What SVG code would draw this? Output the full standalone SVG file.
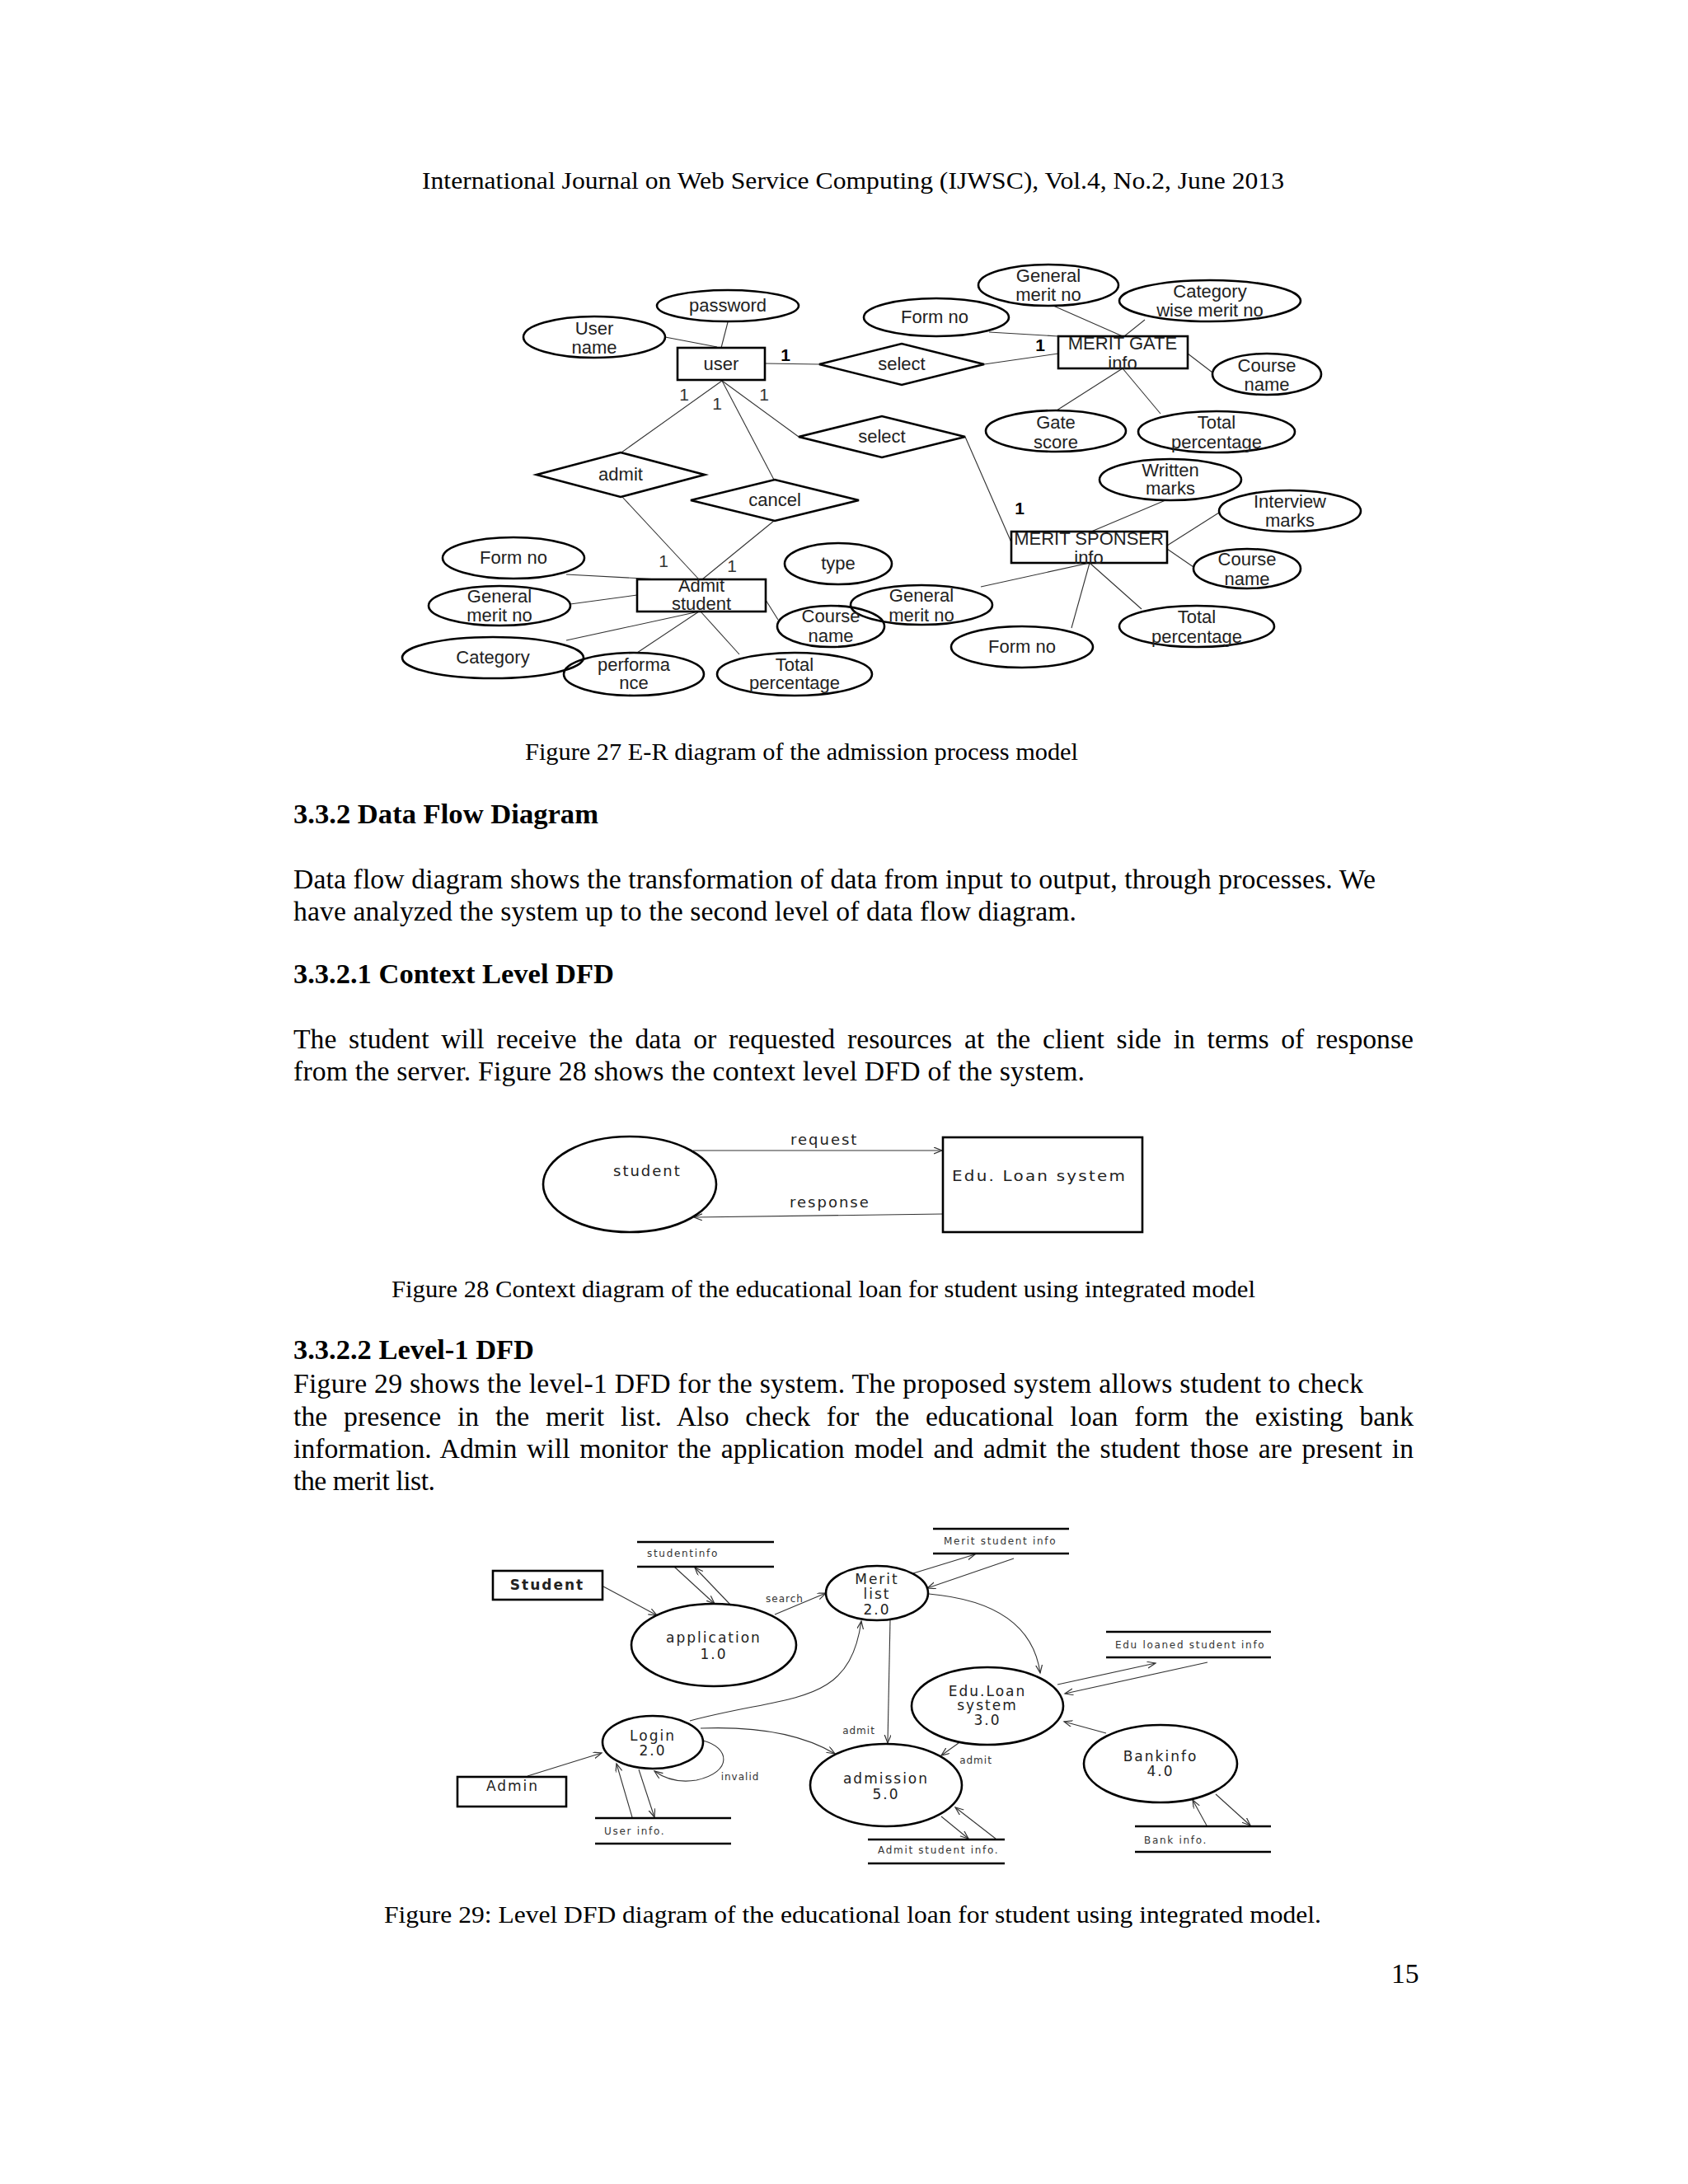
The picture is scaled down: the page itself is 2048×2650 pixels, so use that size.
<svg xmlns="http://www.w3.org/2000/svg" width="2048" height="2650" viewBox="0 0 2048 2650">
<defs>
<style>
.bg{fill:#fff}
.body{font-family:"Liberation Serif","Times New Roman",serif;font-size:33.7px;fill:#000}
.hd{font-family:"Liberation Serif","Times New Roman",serif;font-size:33.7px;font-weight:bold;fill:#000}
.cap{font-family:"Liberation Serif","Times New Roman",serif;font-size:29px;fill:#000}
.ell{fill:none;stroke:#000;stroke-width:2.6}
.box{fill:none;stroke:#000;stroke-width:2.6}
.er{font-family:"Liberation Sans",Arial,sans-serif;font-size:22px;fill:#222;text-anchor:middle}
.one{font-family:"Liberation Sans",Arial,sans-serif;font-size:21px;fill:#333;text-anchor:middle}
.oneb{font-family:"Liberation Sans",Arial,sans-serif;font-size:21px;font-weight:bold;fill:#000;text-anchor:middle}
.ln{stroke:#333;stroke-width:1.1;fill:none}
.dt{font-family:"DejaVu Sans",Verdana,sans-serif;font-size:17px;fill:#222;text-anchor:middle;letter-spacing:2px}
.st{font-family:"DejaVu Sans",Verdana,sans-serif;font-size:12px;fill:#333;letter-spacing:1.7px}
.lb{font-family:"DejaVu Sans",Verdana,sans-serif;font-size:12px;fill:#333;text-anchor:middle;letter-spacing:1px}
.store{stroke:#000;stroke-width:2.4}
.fl{stroke:#333;stroke-width:1.1;fill:none;marker-end:url(#ah)}
.cx{font-family:"DejaVu Sans",Verdana,sans-serif;font-size:18px;fill:#222;letter-spacing:2px}
</style>
<marker id="ah" markerWidth="12" markerHeight="10" refX="10" refY="4" orient="auto" markerUnits="userSpaceOnUse">
<path d="M0,0 L10,4 L0,8" fill="none" stroke="#333" stroke-width="1.2"/>
</marker>
</defs>
<rect class="bg" x="0" y="0" width="2048" height="2650"/>

<!-- page text -->
<g id="page-text">
<text class="cap" x="512" y="229" textLength="1046" lengthAdjust="spacingAndGlyphs">International Journal on Web Service Computing (IJWSC), Vol.4, No.2, June 2013</text>
<text class="cap" x="637" y="922" textLength="671" lengthAdjust="spacingAndGlyphs">Figure 27 E-R diagram of the admission process model</text>
<text class="hd" x="356" y="999" textLength="370" lengthAdjust="spacingAndGlyphs">3.3.2 Data Flow Diagram</text>
<text class="body" x="356" y="1078" textLength="1313" lengthAdjust="spacing">Data flow diagram shows the transformation of data from input to output, through processes. We</text>
<text class="body" x="356" y="1117" textLength="950" lengthAdjust="spacing">have analyzed the system up to the second level of data flow diagram.</text>
<text class="hd" x="356" y="1193" textLength="389" lengthAdjust="spacingAndGlyphs">3.3.2.1 Context Level DFD</text>
<text class="body" x="356" y="1272" word-spacing="6.3" textLength="1359" lengthAdjust="spacing">The student will receive the data or requested resources at the client side in terms of response</text>
<text class="body" x="356" y="1311" textLength="960" lengthAdjust="spacing">from the server. Figure 28 shows the context level DFD of the system.</text>
<text class="cap" x="475" y="1574" textLength="1048" lengthAdjust="spacingAndGlyphs">Figure 28 Context diagram of the educational loan for student using integrated model</text>
<text class="hd" x="356" y="1649" textLength="292" lengthAdjust="spacingAndGlyphs">3.3.2.2 Level-1 DFD</text>
<text class="body" x="356" y="1690" textLength="1298" lengthAdjust="spacing">Figure 29 shows the level-1 DFD for the system. The proposed system allows student to check</text>
<text class="body" x="356" y="1730" word-spacing="11.3" textLength="1359" lengthAdjust="spacing">the presence in the merit list. Also check for the educational loan form the existing bank</text>
<text class="body" x="356" y="1769" word-spacing="3.3" textLength="1359" lengthAdjust="spacing">information. Admin will monitor the application model and admit the student those are present in</text>
<text class="body" x="356" y="1808" textLength="172" lengthAdjust="spacing">the merit list.</text>
<text class="cap" x="466" y="2333" textLength="1137" lengthAdjust="spacingAndGlyphs">Figure 29: Level DFD diagram of the educational loan for student  using integrated model.</text>
<text class="body" x="1688" y="2406">15</text>
</g>

<!-- ===== ER diagram ===== -->
<g id="er-connectors">
<line class="ln" x1="928" y1="441" x2="994" y2="442"/>
<line class="ln" x1="1194" y1="442" x2="1284" y2="429"/>
<line class="ln" x1="807" y1="409" x2="870" y2="421"/>
<line class="ln" x1="883" y1="391" x2="875" y2="422"/>
<line class="ln" x1="876" y1="462" x2="754" y2="549"/>
<line class="ln" x1="876" y1="462" x2="939" y2="582"/>
<line class="ln" x1="876" y1="462" x2="969" y2="530"/>
<line class="ln" x1="1171" y1="530" x2="1227" y2="658"/>
<line class="ln" x1="1200" y1="403" x2="1284" y2="408"/>
<line class="ln" x1="1278" y1="371" x2="1362" y2="408"/>
<line class="ln" x1="1389" y1="388" x2="1364" y2="408"/>
<line class="ln" x1="1441" y1="429" x2="1471" y2="452"/>
<line class="ln" x1="1362" y1="447" x2="1282" y2="498"/>
<line class="ln" x1="1362" y1="447" x2="1408" y2="502"/>
<line class="ln" x1="755" y1="603" x2="848" y2="703"/>
<line class="ln" x1="939" y1="632" x2="852" y2="703"/>
<line class="ln" x1="687" y1="697" x2="800" y2="703"/>
<line class="ln" x1="692" y1="733" x2="773" y2="722"/>
<line class="ln" x1="687" y1="777" x2="848" y2="742"/>
<line class="ln" x1="773" y1="792" x2="848" y2="742"/>
<line class="ln" x1="897" y1="794" x2="850" y2="742"/>
<line class="ln" x1="929" y1="728" x2="944" y2="752"/>
<line class="ln" x1="1324" y1="645" x2="1414" y2="607"/>
<line class="ln" x1="1416" y1="662" x2="1479" y2="622"/>
<line class="ln" x1="1416" y1="666" x2="1448" y2="688"/>
<line class="ln" x1="1322" y1="683" x2="1385" y2="739"/>
<line class="ln" x1="1322" y1="683" x2="1300" y2="762"/>
<line class="ln" x1="1322" y1="683" x2="1190" y2="712"/>
</g>

<g id="er-cardinalities">
<text class="oneb" x="953" y="438">1</text>
<text class="one" x="830" y="486">1</text>
<text class="one" x="870" y="497">1</text>
<text class="one" x="927" y="486">1</text>
<text class="oneb" x="1262" y="426">1</text>
<text class="oneb" x="1237" y="624">1</text>
<text class="one" x="805" y="688">1</text>
<text class="one" x="888" y="694">1</text>
</g>

<g id="e-user"><rect class="box" x="822" y="422" width="106" height="39"/><text class="er" x="875" y="449">user</text></g>
<g id="e-meritgate"><rect class="box" x="1284" y="408" width="157" height="39"/><text class="er" x="1362" y="424">MERIT GATE</text><text class="er" x="1362" y="448">info</text></g>
<g id="e-admitstudent"><rect class="box" x="773" y="703" width="156" height="39"/><text class="er" x="851" y="718">Admit</text><text class="er" x="851" y="740">student</text></g>
<g id="e-meritsponser"><rect class="box" x="1227" y="645" width="189" height="38"/><text class="er" x="1321" y="661">MERIT SPONSER</text><text class="er" x="1321" y="684">info</text></g>

<g id="r-select1"><polygon class="box" points="994,442 1094,417 1194,442 1094,467"/><text class="er" x="1094" y="449">select</text></g>
<g id="r-select2"><polygon class="box" points="969,530 1070,505 1171,530 1070,555"/><text class="er" x="1070" y="537">select</text></g>
<g id="r-admit"><polygon class="box" points="651,576 753,549 855,576 753,603"/><text class="er" x="753" y="583">admit</text></g>
<g id="r-cancel"><polygon class="box" points="838,607 940,582 1042,607 940,632"/><text class="er" x="940" y="614">cancel</text></g>

<g id="a-username"><ellipse class="ell" cx="721" cy="409" rx="86" ry="25"/><text class="er" x="721" y="406">User</text><text class="er" x="721" y="429">name</text></g>
<g id="a-password"><ellipse class="ell" cx="883" cy="371" rx="86" ry="19"/><text class="er" x="883" y="378">password</text></g>
<g id="a-formno1"><ellipse class="ell" cx="1136" cy="385" rx="88" ry="23"/><text class="er" x="1134" y="392">Form no</text></g>
<g id="a-genmerit1"><ellipse class="ell" cx="1272" cy="346" rx="85" ry="25"/><text class="er" x="1272" y="342">General</text><text class="er" x="1272" y="365">merit no</text></g>
<g id="a-catmerit"><ellipse class="ell" cx="1468" cy="365" rx="110" ry="25"/><text class="er" x="1468" y="361">Category</text><text class="er" x="1468" y="384">wise merit no</text></g>
<g id="a-course1"><ellipse class="ell" cx="1537" cy="454" rx="66" ry="25"/><text class="er" x="1537" y="451">Course</text><text class="er" x="1537" y="474">name</text></g>
<g id="a-gatescore"><ellipse class="ell" cx="1281" cy="523" rx="85" ry="25"/><text class="er" x="1281" y="520">Gate</text><text class="er" x="1281" y="544">score</text></g>
<g id="a-total1"><ellipse class="ell" cx="1476" cy="524" rx="95" ry="25"/><text class="er" x="1476" y="520">Total</text><text class="er" x="1476" y="544">percentage</text></g>
<g id="a-written"><ellipse class="ell" cx="1420" cy="582" rx="86" ry="25"/><text class="er" x="1420" y="578">Written</text><text class="er" x="1420" y="600">marks</text></g>
<g id="a-interview"><ellipse class="ell" cx="1565" cy="620" rx="86" ry="25"/><text class="er" x="1565" y="616">Interview</text><text class="er" x="1565" y="639">marks</text></g>
<g id="a-course2"><ellipse class="ell" cx="1513" cy="690" rx="65" ry="24"/><text class="er" x="1513" y="686">Course</text><text class="er" x="1513" y="710">name</text></g>
<g id="a-total2"><ellipse class="ell" cx="1452" cy="760" rx="94" ry="25"/><text class="er" x="1452" y="756">Total</text><text class="er" x="1452" y="780">percentage</text></g>
<g id="a-formno2"><ellipse class="ell" cx="1240" cy="785" rx="86" ry="25"/><text class="er" x="1240" y="792">Form no</text></g>
<g id="a-genmerit2"><ellipse class="ell" cx="1118" cy="734" rx="86" ry="24"/><text class="er" x="1118" y="730">General</text><text class="er" x="1118" y="754">merit no</text></g>
<g id="a-type"><ellipse class="ell" cx="1017" cy="684" rx="65" ry="25"/><text class="er" x="1017" y="691">type</text></g>
<g id="a-course3"><ellipse class="ell" cx="1008" cy="760" rx="65" ry="25"/><text class="er" x="1008" y="755">Course</text><text class="er" x="1008" y="779">name</text></g>
<g id="a-formno3"><ellipse class="ell" cx="623" cy="677" rx="86" ry="25"/><text class="er" x="623" y="684">Form no</text></g>
<g id="a-genmerit3"><ellipse class="ell" cx="606" cy="735" rx="86" ry="24"/><text class="er" x="606" y="731">General</text><text class="er" x="606" y="754">merit no</text></g>
<g id="a-category"><ellipse class="ell" cx="598" cy="798" rx="110" ry="25"/><text class="er" x="598" y="805">Category</text></g>
<g id="a-performance"><ellipse class="ell" cx="769" cy="818" rx="85" ry="26"/><text class="er" x="769" y="814">performa</text><text class="er" x="769" y="836">nce</text></g>
<g id="a-total3"><ellipse class="ell" cx="964" cy="818" rx="94" ry="26"/><text class="er" x="964" y="814">Total</text><text class="er" x="964" y="836">percentage</text></g>

<!-- ===== Context DFD ===== -->
<g id="ctx-connectors">
<line class="fl" x1="841" y1="1396" x2="1143" y2="1396"/>
<line class="fl" x1="1144" y1="1473" x2="842" y2="1477"/>
<text class="cx" x="959" y="1389">request</text>
<text class="cx" x="958" y="1465">response</text>
</g>
<g id="ctx-student"><ellipse class="ell" cx="764" cy="1437" rx="105" ry="58" stroke-width="2.2"/><text class="cx" x="744" y="1427">student</text></g>
<g id="ctx-system"><rect class="box" x="1144" y="1380" width="242" height="115" stroke-width="2.2"/><text class="cx" x="1155" y="1433" textLength="212" lengthAdjust="spacingAndGlyphs">Edu. Loan system</text></g>

<!-- ===== Level-1 DFD ===== -->
<g id="dfd-connectors">
<line class="fl" x1="732" y1="1925" x2="797" y2="1960"/>
<line class="fl" x1="818" y1="1901" x2="867" y2="1946"/>
<line class="fl" x1="887" y1="1948" x2="843" y2="1902"/>
<line class="fl" x1="940" y1="1959" x2="1002" y2="1933"/>
<text class="lb" x="952" y="1944">search</text>
<line class="fl" x1="1108" y1="1909" x2="1183" y2="1886"/>
<line class="fl" x1="1230" y1="1891" x2="1125" y2="1927"/>
<path class="fl" d="M1127,1934 Q1250,1945 1262,2030"/>
<line class="fl" x1="1283" y1="2044" x2="1402" y2="2018"/>
<line class="fl" x1="1465" y1="2017" x2="1292" y2="2055"/>
<line class="fl" x1="1342" y1="2103" x2="1291" y2="2089"/>
<line class="fl" x1="1464" y1="2215" x2="1447" y2="2184"/>
<line class="fl" x1="1475" y1="2177" x2="1517" y2="2215"/>
<line class="fl" x1="1080" y1="1966" x2="1077" y2="2115"/>
<line class="fl" x1="1163" y1="2115" x2="1142" y2="2130"/>
<text class="lb" x="1184" y="2140">admit</text>
<path class="fl" d="M850,2097 Q955,2093 1013,2128"/>
<text class="lb" x="1042" y="2104">admit</text>
<path class="fl" d="M837,2088 C960,2055 1030,2072 1045,1967"/>
<line class="fl" x1="1142" y1="2204" x2="1175" y2="2231"/>
<line class="fl" x1="1208" y1="2231" x2="1159" y2="2193"/>
<line class="fl" x1="640" y1="2155" x2="730" y2="2127"/>
<line class="fl" x1="767" y1="2205" x2="748" y2="2140"/>
<line class="fl" x1="775" y1="2147" x2="794" y2="2205"/>
<path class="fl" d="M853,2112 C885,2120 890,2150 845,2160 C820,2164 805,2157 794,2149"/>
<text class="lb" x="898" y="2160">invalid</text>
</g>

<g id="d-student"><rect class="box" x="598" y="1906" width="133" height="35"/><text class="dt" x="664" y="1929" font-weight="bold" font-size="16">Student</text></g>
<g id="d-admin"><rect class="box" x="555" y="2156" width="132" height="36"/><text class="dt" x="622" y="2173">Admin</text></g>
<g id="d-application"><ellipse class="ell" cx="866" cy="1996" rx="100" ry="50"/><text class="dt" x="866" y="1993">application</text><text class="dt" x="866" y="2013">1.0</text></g>
<g id="d-meritlist"><ellipse class="ell" cx="1064" cy="1933" rx="62" ry="33"/><text class="dt" x="1064" y="1922">Merit</text><text class="dt" x="1064" y="1940">list</text><text class="dt" x="1064" y="1959">2.0</text></g>
<g id="d-eduloan"><ellipse class="ell" cx="1198" cy="2070" rx="92" ry="47"/><text class="dt" x="1198" y="2058">Edu.Loan</text><text class="dt" x="1198" y="2075">system</text><text class="dt" x="1198" y="2093">3.0</text></g>
<g id="d-login"><ellipse class="ell" cx="792" cy="2114" rx="61" ry="32"/><text class="dt" x="792" y="2112">Login</text><text class="dt" x="792" y="2130">2.0</text></g>
<g id="d-admission"><ellipse class="ell" cx="1075" cy="2166" rx="92" ry="50"/><text class="dt" x="1075" y="2164">admission</text><text class="dt" x="1075" y="2183">5.0</text></g>
<g id="d-bankinfo"><ellipse class="ell" cx="1408" cy="2140" rx="93" ry="47"/><text class="dt" x="1408" y="2137">Bankinfo</text><text class="dt" x="1408" y="2155">4.0</text></g>

<g id="s-studentinfo"><line class="store" x1="773" y1="1871" x2="939" y2="1871"/><line class="store" x1="773" y1="1901" x2="939" y2="1901"/><text class="st" x="785" y="1889">studentinfo</text></g>
<g id="s-meritinfo"><line class="store" x1="1132" y1="1855" x2="1297" y2="1855"/><line class="store" x1="1132" y1="1885" x2="1297" y2="1885"/><text class="st" x="1145" y="1874">Merit student info</text></g>
<g id="s-eduloaned"><line class="store" x1="1342" y1="1980" x2="1542" y2="1980"/><line class="store" x1="1342" y1="2011" x2="1542" y2="2011"/><text class="st" x="1353" y="2000">Edu loaned student info</text></g>
<g id="s-userinfo"><line class="store" x1="722" y1="2206" x2="887" y2="2206"/><line class="store" x1="722" y1="2237" x2="887" y2="2237"/><text class="st" x="733" y="2226">User info.</text></g>
<g id="s-admitinfo"><line class="store" x1="1053" y1="2232" x2="1219" y2="2232"/><line class="store" x1="1053" y1="2261" x2="1219" y2="2261"/><text class="st" x="1065" y="2249">Admit student info.</text></g>
<g id="s-bankinfo"><line class="store" x1="1377" y1="2216" x2="1542" y2="2216"/><line class="store" x1="1377" y1="2247" x2="1542" y2="2247"/><text class="st" x="1388" y="2237">Bank info.</text></g>
</svg>
